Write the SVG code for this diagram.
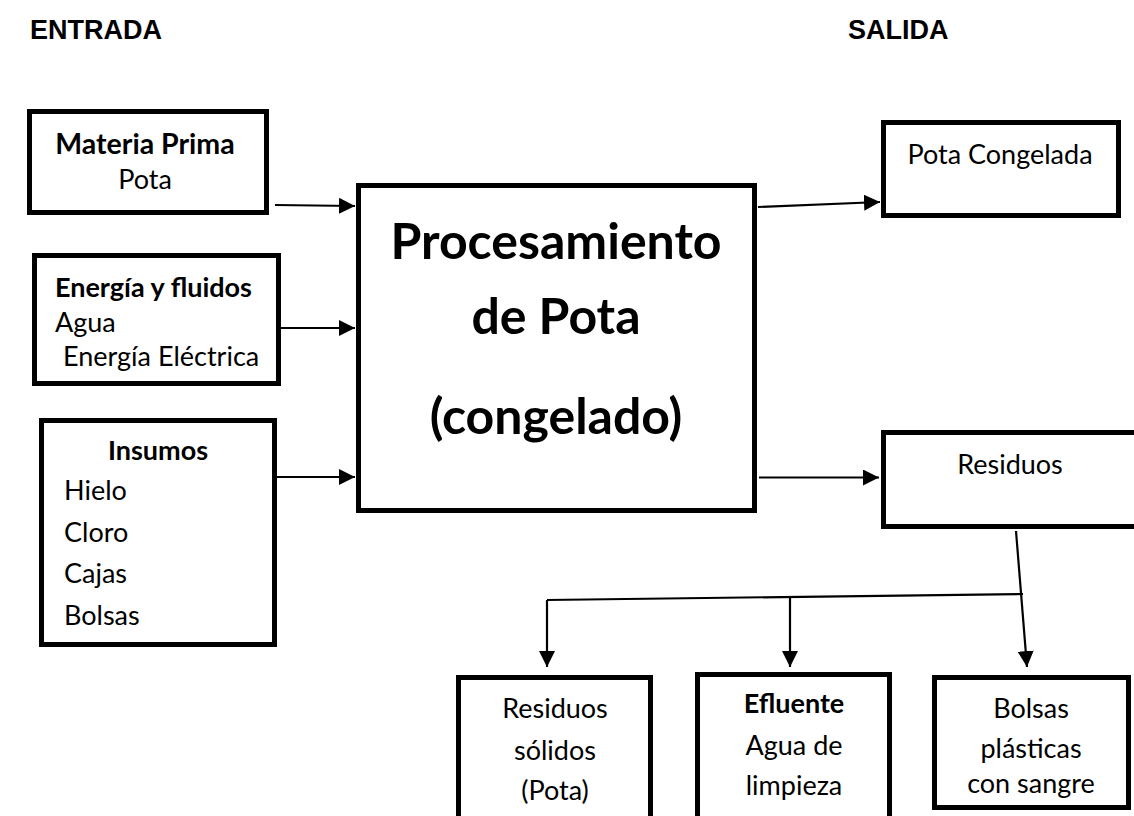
<svg xmlns="http://www.w3.org/2000/svg" width="1134" height="816" viewBox="0 0 1134 816">
<style>
.box{fill:#fff;stroke:#000;stroke-width:5}
.t{font-family:Lato,"Open Sans",sans-serif;font-size:27px;fill:#000}
.b{font-weight:bold}
.c{text-anchor:middle}
.big{font-family:Lato,"Open Sans",sans-serif;font-size:50px;font-weight:bold;text-anchor:middle;fill:#000}
.h{font-family:"Liberation Sans",Arial,sans-serif;font-size:27px;font-weight:bold;fill:#000}
.ln{stroke:#000;stroke-width:2.2;fill:none}
.ar{stroke:#000;stroke-width:2.2;fill:none;marker-end:url(#ah)}
</style>
<defs>
<marker id="ah" markerUnits="userSpaceOnUse" markerWidth="16" markerHeight="16" refX="16" refY="8" orient="auto" viewBox="0 0 16 16">
<path d="M0,0 L16,8 L0,16 z" fill="#000"/>
</marker>
</defs>
<rect width="1134" height="816" fill="#fff"/>
<g id="headers">
<text class="h" x="30" y="39">ENTRADA</text>
<text class="h" x="848" y="39">SALIDA</text>
</g>
<g id="connectors">
<line class="ar" x1="275" y1="205" x2="355" y2="206"/>
<line class="ar" x1="281" y1="328" x2="355" y2="328"/>
<line class="ar" x1="277" y1="477" x2="355" y2="477"/>
<line class="ar" x1="758" y1="207" x2="880" y2="202"/>
<line class="ar" x1="759" y1="477.5" x2="879" y2="477.5"/>
<line class="ar" x1="1016" y1="531" x2="1027" y2="667"/>
<line class="ln" x1="547" y1="600" x2="1023" y2="594"/>
<line class="ar" x1="547" y1="600" x2="547" y2="667"/>
<line class="ar" x1="790" y1="597" x2="790" y2="667"/>
</g>
<g id="materia-prima">
<rect class="box" x="29.5" y="111.5" width="237" height="101"/>
<text class="t b c" x="145" y="154" style="font-size:28.5px">Materia Prima</text>
<text class="t c" x="145" y="189">Pota</text>
</g>
<g id="energia">
<rect class="box" x="34.5" y="255.5" width="244" height="128"/>
<text class="t b" x="55" y="297">Energía y fluidos</text>
<text class="t" x="55" y="332">Agua</text>
<text class="t" x="63" y="366">Energía Eléctrica</text>
</g>
<g id="insumos">
<rect class="box" x="41.5" y="420.5" width="233" height="224"/>
<text class="t b c" x="158" y="460">Insumos</text>
<text class="t" x="64" y="500">Hielo</text>
<text class="t" x="64" y="542">Cloro</text>
<text class="t" x="64" y="583">Cajas</text>
<text class="t" x="64" y="625">Bolsas</text>
</g>
<g id="procesamiento">
<rect class="box" x="358.5" y="185.5" width="396" height="325"/>
<text class="big" x="556" y="259">Procesamiento</text>
<text class="big" x="556" y="334">de Pota</text>
<text class="big" x="556" y="434">(congelado)</text>
</g>
<g id="pota-congelada">
<rect class="box" x="883.5" y="122.5" width="235" height="93"/>
<text class="t c" x="1000" y="164">Pota Congelada</text>
</g>
<g id="residuos">
<rect class="box" x="883.5" y="432.5" width="260" height="94"/>
<text class="t c" x="1010" y="474">Residuos</text>
</g>
<g id="residuos-solidos">
<rect class="box" x="458.5" y="677.5" width="192" height="160"/>
<text class="t c" x="555" y="718">Residuos</text>
<text class="t c" x="555" y="760">sólidos</text>
<text class="t c" x="555" y="800">(Pota)</text>
</g>
<g id="efluente">
<rect class="box" x="697.5" y="674.5" width="192" height="160"/>
<text class="t b c" x="794" y="713">Efluente</text>
<text class="t c" x="794" y="755">Agua de</text>
<text class="t c" x="794" y="795">limpieza</text>
</g>
<g id="bolsas">
<rect class="box" x="934.5" y="677.5" width="194" height="130"/>
<text class="t c" x="1031" y="718">Bolsas</text>
<text class="t c" x="1031" y="758">plásticas</text>
<text class="t c" x="1031" y="793">con sangre</text>
</g>
</svg>
